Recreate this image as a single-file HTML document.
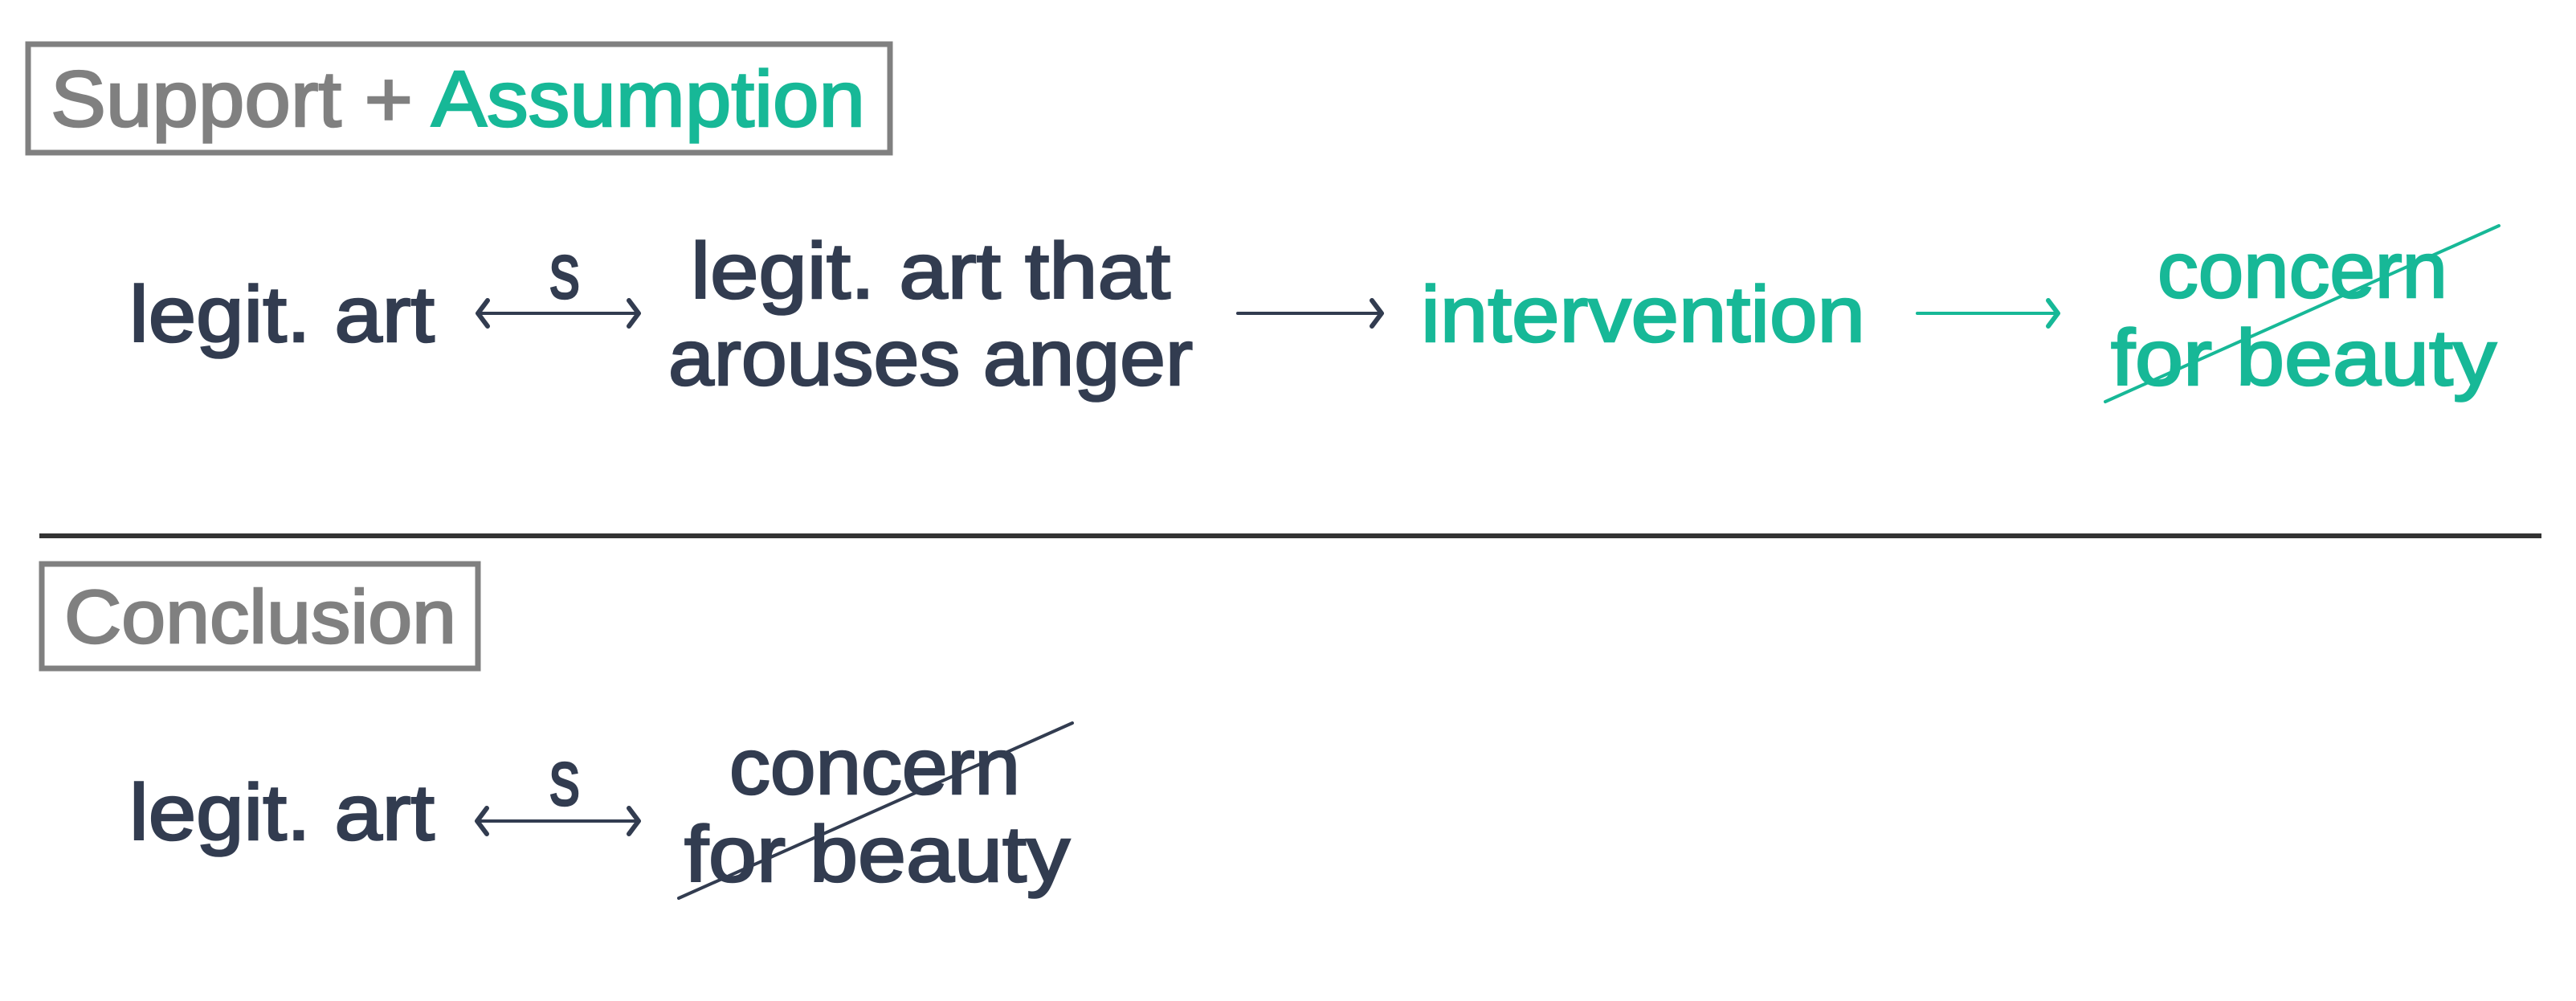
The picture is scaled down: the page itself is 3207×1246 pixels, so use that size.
<!DOCTYPE html>
<html><head><meta charset="utf-8"><style>
html,body{margin:0;padding:0;background:#fff;}
svg{display:block;}
text{font-family:"Liberation Sans",sans-serif;}
</style></head><body>
<svg width="3207" height="1246" viewBox="0 0 3207 1246" xmlns="http://www.w3.org/2000/svg">
<rect width="3207" height="1246" fill="#fff"/>
<!-- header box 1 -->
<rect x="35" y="55" width="1073" height="135" fill="none" stroke="#808080" stroke-width="7"/>
<text x="63" y="157" font-size="98" textLength="1014" lengthAdjust="spacingAndGlyphs" stroke-width="2.5"><tspan fill="#808080" stroke="#808080">Support + </tspan><tspan fill="#17b897" stroke="#17b897">Assumption</tspan></text>

<g fill="#323c50" stroke="#323c50" stroke-width="2.5" font-size="98">
<text x="161" y="425" textLength="380" lengthAdjust="spacingAndGlyphs">legit. art</text>
<text x="684" y="371" textLength="38" lengthAdjust="spacingAndGlyphs">s</text>
<text x="860" y="371" textLength="597" lengthAdjust="spacingAndGlyphs">legit. art that</text>
<text x="832" y="479" textLength="653" lengthAdjust="spacingAndGlyphs">arouses anger</text>
</g>
<g fill="none" stroke="#323c50" stroke-width="4" stroke-linecap="round" stroke-linejoin="round">
<line x1="596" y1="390" x2="794" y2="390"/>
<line x1="1541" y1="390" x2="1719" y2="390"/>
</g>
<g fill="none" stroke="#323c50" stroke-width="6" stroke-linecap="round" stroke-linejoin="round">
<polyline points="607,374 595,390 607,406"/>
<polyline points="783,374 795,390 783,406"/>
<polyline points="1708,374 1720,390 1708,406"/>
</g>
<g fill="#17b897" stroke="#17b897" stroke-width="2.5" font-size="98">
<text x="1769" y="425" textLength="553" lengthAdjust="spacingAndGlyphs">intervention</text>
<text x="2686" y="370" textLength="361" lengthAdjust="spacingAndGlyphs">concern</text>
<text x="2628" y="479" textLength="480" lengthAdjust="spacingAndGlyphs">for beauty</text>
</g>
<g fill="none" stroke="#17b897" stroke-width="4" stroke-linecap="round" stroke-linejoin="round">
<line x1="2387" y1="390" x2="2561" y2="390"/>
<polyline points="2550,374 2562,390 2550,406" stroke-width="6"/>
<line x1="2621" y1="500" x2="3111" y2="281"/>
</g>

<!-- divider -->
<rect x="49" y="664" width="3115" height="6" fill="#333"/>

<!-- conclusion -->
<rect x="52" y="702" width="543" height="130" fill="none" stroke="#808080" stroke-width="7"/>
<text x="80" y="800" font-size="94" fill="#808080" stroke="#808080" stroke-width="2.5" textLength="488" lengthAdjust="spacingAndGlyphs">Conclusion</text>

<g fill="#323c50" stroke="#323c50" stroke-width="2.5" font-size="98">
<text x="161" y="1045" textLength="380" lengthAdjust="spacingAndGlyphs">legit. art</text>
<text x="684" y="1002" textLength="38" lengthAdjust="spacingAndGlyphs">s</text>
<text x="908" y="988" textLength="362" lengthAdjust="spacingAndGlyphs">concern</text>
<text x="852" y="1097" textLength="480" lengthAdjust="spacingAndGlyphs">for beauty</text>
</g>
<g fill="none" stroke="#323c50" stroke-width="4" stroke-linecap="round" stroke-linejoin="round">
<line x1="594" y1="1022" x2="794" y2="1022"/>
<polyline points="606,1006 594,1022 606,1038" stroke-width="6"/>
<polyline points="783,1006 795,1022 783,1038" stroke-width="6"/>
<line x1="845" y1="1118" x2="1335" y2="900"/>
</g>
</svg>
</body></html>
